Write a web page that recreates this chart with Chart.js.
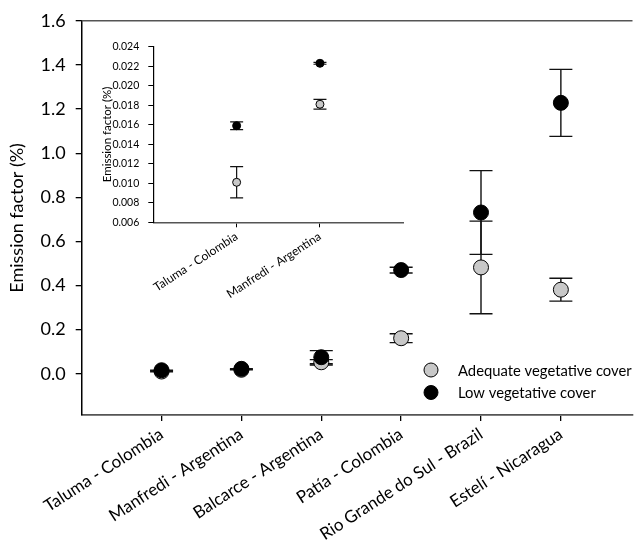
<!DOCTYPE html>
<html><head><meta charset="utf-8">
<script src="https://cdn.jsdelivr.net/npm/chart.js@4/dist/chart.umd.min.js"></script>
<style>
html,body{margin:0;padding:0;background:#fff;}
#wrap{position:relative;width:641px;height:545px;overflow:hidden;}
#main{position:absolute;left:0;top:0;}
#inset{position:absolute;left:90px;top:30px;}
</style></head><body>
<div id="wrap"><canvas id="main" width="641" height="545"></canvas><canvas id="inset" width="330" height="280"></canvas></div>
<script>
const categories = ['Taluma - Colombia', 'Manfredi - Argentina', 'Balcarce - Argentina', 'Patía - Colombia', 'Rio Grande do Sul - Brazil', 'Estelí - Nicaragua'];
const adequate = [0.0101, 0.0181, 0.052, 0.161, 0.482, 0.381];
const adequateErr = [0.0016, 0.0005, 0.012, 0.020, 0.210, 0.052];
const low = [0.0159, 0.0223, 0.075, 0.470, 0.731, 1.228];
const lowErr = [0.0004, 0.0001, 0.030, 0.013, 0.190, 0.152];
const mainYTicks = [0.0, 0.2, 0.4, 0.6, 0.8, 1.0, 1.2, 1.4, 1.6];
const insetYTicks = [0.006, 0.008, 0.010, 0.012, 0.014, 0.016, 0.018, 0.020, 0.022, 0.024];
const insetCount = 2;
const seriesNames = ['Adequate vegetative cover', 'Low vegetative cover'];

const FONT = 'Lato';

const errPlugin = {
  id: 'errbars',
  beforeDatasetsDraw(chart, args, opts) {
    const {ctx, scales: {x, y}} = chart;
    ctx.save();
    ctx.strokeStyle = '#111';
    ctx.lineWidth = opts.lw;
    chart.data.datasets.forEach(ds => {
      ds.data.forEach((p, i) => {
        const e = ds.errors[i];
        const px = x.getPixelForValue(p.x);
        const t = y.getPixelForValue(p.y + e), b = y.getPixelForValue(p.y - e);
        ctx.beginPath();
        ctx.moveTo(px, t); ctx.lineTo(px, b);
        ctx.moveTo(px - opts.cap, t); ctx.lineTo(px + opts.cap, t);
        ctx.moveTo(px - opts.cap, b); ctx.lineTo(px + opts.cap, b);
        ctx.stroke();
      });
    });
    ctx.restore();
  }
};

const frameLegendPlugin = {
  id: 'frameLegend',
  afterDraw(chart, args, opts) {
    const {ctx, chartArea: a} = chart;
    ctx.save();
    if (opts.topLine) {
      ctx.strokeStyle = '#555';
      ctx.lineWidth = 1.6;
      ctx.beginPath();
      ctx.moveTo(a.left, a.top); ctx.lineTo(a.right, a.top);
      ctx.stroke();
    }
    if (opts.legend) {
      const L = opts.legend;
      ctx.font = L.size + 'px ' + FONT;
      ctx.textBaseline = 'middle';
      ctx.textAlign = 'left';
      chart.data.datasets.forEach((ds, i) => {
        const cy = L.y + i * L.gap;
        ctx.beginPath();
        ctx.arc(L.x, cy, L.r, 0, Math.PI * 2);
        ctx.fillStyle = ds.backgroundColor;
        ctx.fill();
        ctx.lineWidth = 1;
        ctx.strokeStyle = '#000';
        ctx.stroke();
        ctx.fillStyle = '#000';
        ctx.fillText(ds.label, L.tx, cy + 1);
      });
    }
    ctx.restore();
  }
};

function makeDatasets(n, radius) {
  return [
    {label: seriesNames[0], data: adequate.slice(0, n).map((v, i) => ({x: i + 1, y: v})), errors: adequateErr.slice(0, n),
     backgroundColor: '#c8c8c8', borderColor: '#000', borderWidth: 1, pointRadius: radius, order: 2, showLine: false},
    {label: seriesNames[1], data: low.slice(0, n).map((v, i) => ({x: i + 1, y: v})), errors: lowErr.slice(0, n),
     backgroundColor: '#000', borderColor: '#000', borderWidth: 1, pointRadius: radius, order: 1, showLine: false}
  ];
}

new Chart(document.getElementById('main'), {
  type: 'scatter',
  data: {datasets: makeDatasets(categories.length, 7.5)},
  options: {
    responsive: false, animation: false, events: [],
    layout: {padding: {top: 16.7, right: 0, left: 0, bottom: 0}},
    plugins: {
      legend: {display: false}, tooltip: {enabled: false},
      errbars: {lw: 1.4, cap: 11.5},
      frameLegend: {topLine: true, legend: {x: 431, y: 370, gap: 22.5, r: 7, tx: 458, size: 14.8}}
    },
    scales: {
      x: {
        type: 'linear', min: 0, max: 6.897,
        afterBuildTicks: s => { s.ticks = categories.map((c, i) => ({value: i + 1})); },
        afterFit: s => { s.height = 130; },
        border: {color: '#555', width: 1.8},
        grid: {display: true, drawOnChartArea: false, tickLength: 6, color: '#000', lineWidth: 1.3},
        ticks: {autoSkip: false, minRotation: 33, maxRotation: 33, padding: 3, color: '#000',
          font: {family: FONT, size: 17},
          callback: v => categories[Math.round(v) - 1]}
      },
      y: {
        min: -0.187, max: 1.6,
        afterBuildTicks: s => { s.ticks = mainYTicks.map(v => ({value: v})); },
        afterFit: s => { s.width = 81.7; },
        border: {color: '#000', width: 1.5},
        grid: {display: true, drawOnChartArea: false, tickLength: 6, color: '#000', lineWidth: 1.3},
        ticks: {padding: 10, color: '#000', font: {family: FONT, size: 18}, callback: v => v.toFixed(1)},
        title: {display: true, text: 'Emission factor (%)', color: '#000', font: {family: FONT, size: 18}, padding: {top: 6, bottom: 0}}
      }
    }
  },
  plugins: [errPlugin, frameLegendPlugin]
});

new Chart(document.getElementById('inset'), {
  type: 'scatter',
  data: {datasets: makeDatasets(insetCount, 4)},
  options: {
    responsive: false, animation: false, events: [],
    layout: {padding: {top: 16.7, right: 16.7, left: 0, bottom: 0}},
    plugins: {
      legend: {display: false}, tooltip: {enabled: false},
      errbars: {lw: 1.2, cap: 6.5},
      frameLegend: {topLine: false}
    },
    scales: {
      x: {
        type: 'linear', min: 0, max: 3,
        afterBuildTicks: s => { s.ticks = categories.slice(0, insetCount).map((c, i) => ({value: i + 1})); },
        afterFit: s => { s.height = 87.7; },
        border: {color: '#555', width: 1.5},
        grid: {display: true, drawOnChartArea: false, tickLength: 5, color: '#000', lineWidth: 1},
        ticks: {autoSkip: false, minRotation: 33, maxRotation: 33, padding: 2, color: '#000',
          font: {family: FONT, size: 12},
          callback: v => categories[Math.round(v) - 1]}
      },
      y: {
        min: 0.006, max: 0.024,
        afterBuildTicks: s => { s.ticks = insetYTicks.map(v => ({value: v})); },
        afterFit: s => { s.width = 63.3; },
        border: {color: '#000', width: 1.2},
        grid: {display: true, drawOnChartArea: false, tickLength: 5, color: '#000', lineWidth: 1},
        ticks: {padding: 9, color: '#000', font: {family: FONT, size: 10.5}, callback: v => v.toFixed(3)},
        title: {display: true, text: 'Emission factor (%)', color: '#000', font: {family: FONT, size: 11.5}, padding: {top: 10, bottom: 0}}
      }
    }
  },
  plugins: [errPlugin, frameLegendPlugin]
});
</script>
</body></html>
